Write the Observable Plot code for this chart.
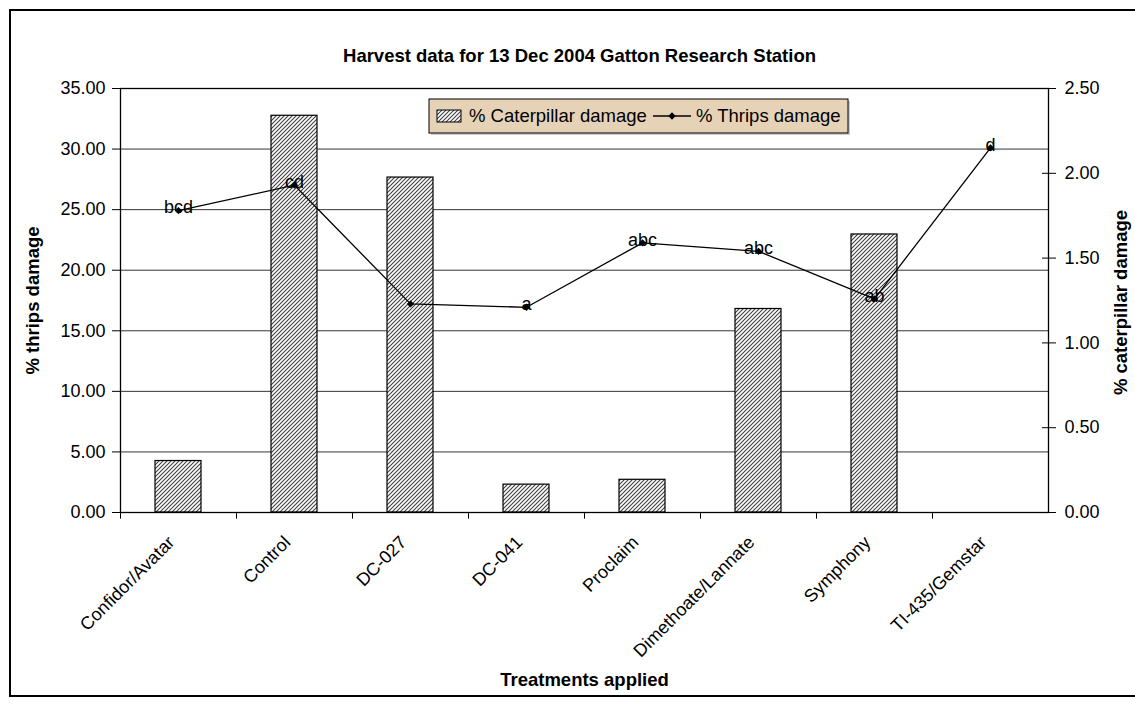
<!DOCTYPE html>
<html><head><meta charset="utf-8">
<script src="https://cdn.jsdelivr.net/npm/d3@7"></script>
<script src="https://cdn.jsdelivr.net/npm/@observablehq/plot@0.6"></script>
<style>body{margin:0;background:#fff} svg{display:block}</style>
</head><body><div id="chart"></div>
<script>
const categories = ["Confidor/Avatar","Control","DC-027","DC-041","Proclaim","Dimethoate/Lannate","Symphony","TI-435/Gemstar"];
const caterpillarDamage = [4.25, 32.75, 27.65, 2.3, 2.7, 16.8, 22.95, 0];
const thripsDamage = [1.78, 1.93, 1.23, 1.21, 1.59, 1.54, 1.26, 2.15];
const significance = ["bcd","cd","","a","abc","abc","ab","d"];
const leftTicks = [0,5,10,15,20,25,30,35];
const rightTicks = [0,0.5,1,1.5,2,2.5];
const chartTitle = "Harvest data for 13 Dec 2004 Gatton Research Station";
const xTitle = "Treatments applied";
const leftTitle = "% thrips damage";
const rightTitle = "% caterpillar damage";
const legendLabels = ["% Caterpillar damage", "% Thrips damage"];

const W = 1135, H = 704;
const mL = 120, mR = 87, mT = 88, mB = 192;
const leftMax = 35, rightMax = 2.5, ratio = leftMax / rightMax;
const step = (W - mL - mR) / categories.length;
const rows = categories.map((c, i) => ({cat: c, cater: caterpillarDamage[i], thrips: thripsDamage[i], sig: significance[i]}));
const font = "'Liberation Sans', Arial, sans-serif";
const fs = 18;

const chart = Plot.plot({
  width: W, height: H,
  marginLeft: mL, marginRight: mR, marginTop: mT, marginBottom: mB,
  style: {fontFamily: font, fontSize: fs + "px", color: "black", background: "white", overflow: "visible"},
  x: {domain: categories, paddingInner: 0.6, paddingOuter: 0.3, axis: null},
  y: {domain: [0, leftMax], axis: null},
  marks: [
    Plot.gridY(leftTicks.slice(1, -1), {stroke: "black", strokeOpacity: 0.8}),
    Plot.barY(rows, {x: "cat", y: "cater", fill: "url(#hatch)", stroke: "black", strokeWidth: 1.2}),
    Plot.frame({stroke: "black", strokeWidth: 1.3}),
    Plot.axisY(leftTicks, {anchor: "left", tickSize: 8, tickPadding: 7, tickFormat: d => d.toFixed(2), label: null, fontSize: fs}),
    Plot.axisY(rightTicks.map(d => d * ratio), {anchor: "right", tickSize: 14, dx: -7, tickPadding: 9, tickFormat: d => (d / ratio).toFixed(2), label: null, fontSize: fs}),
    Plot.ruleX(categories, {x: d => d, dx: -step / 2, y1: 0, y2: -0.55, stroke: "black"}),
    Plot.text(categories, {x: d => d, frameAnchor: "bottom", rotate: -45, textAnchor: "end", dy: 31, dx: -3, fontSize: fs}),
    Plot.line(rows, {x: "cat", y: d => d.thrips * ratio, stroke: "black", strokeWidth: 1.3}),
    Plot.dot(rows, {x: "cat", y: d => d.thrips * ratio, symbol: "diamond2", r: 3.3, fill: "black", stroke: "none"}),
    Plot.text(rows, {x: "cat", y: d => d.thrips * ratio, text: "sig", dy: -3, fontSize: fs}),
    Plot.text([chartTitle], {frameAnchor: "top", dy: -40, dx: -5, fontWeight: "bold", fontSize: 18.5}),
    Plot.text([xTitle], {frameAnchor: "bottom", dy: 173, fontWeight: "bold", fontSize: 18.5}),
    Plot.text([leftTitle], {frameAnchor: "left", textAnchor: "middle", dx: -87, rotate: -90, fontWeight: "bold", fontSize: 18.5}),
    Plot.text([rightTitle], {frameAnchor: "right", textAnchor: "middle", dx: 73, dy: 2, rotate: -90, fontWeight: "bold", fontSize: 18.5})
  ]
});
document.getElementById("chart").append(chart);

const svg = d3.select(chart);
const defs = svg.insert("defs", ":first-child");
const pat = defs.append("pattern").attr("id", "hatch").attr("patternUnits", "userSpaceOnUse").attr("width", 4).attr("height", 4);
pat.append("rect").attr("width", 4).attr("height", 4).attr("fill", "white");
pat.append("path").attr("d", "M-1,1 L1,-1 M0,4 L4,0 M3,5 L5,3").attr("stroke", "#3a3a3a").attr("stroke-width", 1.05);

// outer frame
svg.append("rect").attr("x", 10).attr("y", 10).attr("width", 1140).attr("height", 686)
  .attr("fill", "none").attr("stroke", "black").attr("stroke-width", 2);

// legend
const lg = svg.append("g").attr("transform", "translate(429,99)").attr("text-anchor", "start");
lg.append("rect").attr("x", 2).attr("y", 2).attr("width", 419).attr("height", 34).attr("fill", "#999").attr("opacity", 0.5);
lg.append("rect").attr("width", 419).attr("height", 34).attr("fill", "#E6D3B7").attr("stroke", "black").attr("stroke-width", 1);
lg.append("rect").attr("x", 8).attr("y", 11).attr("width", 24).attr("height", 12).attr("fill", "url(#hatch)").attr("stroke", "black");
lg.append("text").attr("x", 40).attr("y", 17).attr("dy", "0.35em").attr("font-family", font).attr("font-size", 18.5).text(legendLabels[0]);
lg.append("line").attr("x1", 224).attr("x2", 262).attr("y1", 17).attr("y2", 17).attr("stroke", "black").attr("stroke-width", 1.3);
lg.append("path").attr("d", d3.symbol(d3.symbolDiamond2, 36)()).attr("transform", "translate(243,17)").attr("fill", "black");
lg.append("text").attr("x", 267).attr("y", 17).attr("dy", "0.35em").attr("font-family", font).attr("font-size", 18.5).text(legendLabels[1]);
</script>
</body></html>
